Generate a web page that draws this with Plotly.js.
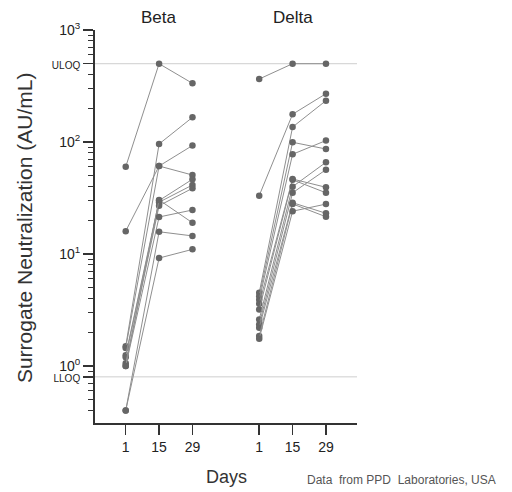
<!DOCTYPE html>
<html>
<head>
<meta charset="utf-8">
<script src="https://cdn.plot.ly/plotly-3.0.1.min.js"></script>
<style>html,body{margin:0;padding:0;background:#fff;}#chart{width:512px;height:492px;}</style>
</head>
<body>
<div id="chart"></div>
<script>
// ---- data ----
const dayLabels = ['1', '15', '29'];
const variants = ['Beta', 'Delta'];
const ULOQ = 500;
const LLOQ = 0.8;

const betaDay1  = [60, 16, 1.5, 1.45, 1.25, 1.2, 1.06, 1.0, 1.0, 0.4, 0.4];
const betaDay15 = [500, 61, 96, 61, 30, 29, 27, 30.4, 21.4, 15.8, 9.2];
const betaDay29 = [334, 93, 166, 50.7, 46.5, 41.3, 38.6, 19, 24.7, 14.5, 11];

const deltaDay1  = [365, 33.2, 4.5, 4.2, 3.9, 3.6, 3.2, 2.6, 2.35, 2.2, 1.85, 1.75];
const deltaDay15 = [500, 177, 136, 99.4, 77.7, 46.7, 46, 39.9, 35.2, 28.7, 28, 24.1];
const deltaDay29 = [500, 270, 234, 86.6, 103, 39.4, 35.2, 65.9, 56.6, 23.1, 21.5, 27.9];

// ---- build ----
const groupPos = {Beta: [0, 1, 2], Delta: [4, 5, 6]};
const series = {Beta: [betaDay1, betaDay15, betaDay29], Delta: [deltaDay1, deltaDay15, deltaDay29]};
const traces = [];
variants.forEach(v => {
  const [d1, d15, d29] = series[v];
  for (let i = 0; i < d1.length; i++) {
    traces.push({
      x: groupPos[v],
      y: [d1[i], d15[i], d29[i]],
      type: 'scatter',
      mode: 'lines+markers',
      line: {color: '#8f8f8f', width: 1},
      marker: {color: '#666666', size: 6.5},
      showlegend: false,
      hoverinfo: 'skip'
    });
  }
});

const minorVals = [];
[0.1, 1, 10, 100].forEach(d => {
  for (let k = 2; k <= 9; k++) {
    const val = +(d * k).toPrecision(3);
    if (val >= 0.31 && val < 1000 && val !== LLOQ && val !== ULOQ) minorVals.push(val);
  }
});

const font = 'Arial, "Liberation Sans", sans-serif';
const small = t => '<span style="font-size:10px">' + t + '</span>';

const layout = {
  width: 512, height: 492,
  margin: {l: 95, r: 155, t: 30, b: 69},
  paper_bgcolor: '#fff', plot_bgcolor: '#fff',
  font: {family: font, color: '#222'},
  xaxis: {
    range: [-0.92, 6.93],
    tickmode: 'array',
    tickvals: [].concat(groupPos.Beta, groupPos.Delta),
    ticktext: [].concat(dayLabels, dayLabels),
    ticks: 'outside', ticklen: 10, tickwidth: 1.5, tickcolor: '#333',
    showline: true, linecolor: '#333', linewidth: 2,
    showgrid: false, zeroline: false,
    tickfont: {size: 14, color: '#222', family: font}
  },
  yaxis: {
    type: 'log',
    range: [-0.509, 3],
    tickmode: 'array',
    tickvals: [LLOQ, 1, 10, 100, ULOQ, 1000],
    ticktext: [small('LLOQ'), '10<sup>0</sup>', '10<sup>1</sup>', '10<sup>2</sup>', small('ULOQ'), '10<sup>3</sup>'],
    ticks: 'outside', ticklen: 10, tickwidth: 1.5, tickcolor: '#333',
    minor: {tickmode: 'array', tickvals: minorVals, ticks: 'outside', ticklen: 5, tickwidth: 1.2, tickcolor: '#333', showgrid: false},
    showline: true, linecolor: '#333', linewidth: 2,
    showgrid: false, zeroline: false,
    tickfont: {size: 14, color: '#222', family: font}
  },
  shapes: [ULOQ, LLOQ].map(val => ({
    type: 'line', xref: 'paper', x0: 0, x1: 1, yref: 'y', y0: val, y1: val,
    line: {color: '#cfcfcf', width: 1}, layer: 'below'
  })),
  annotations: [
    {text: 'Beta', xref: 'x', x: 1, yref: 'paper', y: 1.033, showarrow: false, font: {size: 17, color: '#222'}, yanchor: 'middle'},
    {text: 'Delta', xref: 'x', x: 5, yref: 'paper', y: 1.033, showarrow: false, font: {size: 17, color: '#222'}, yanchor: 'middle'},
    {text: 'Days', xref: 'paper', x: 0.5, yref: 'paper', y: -0.137, showarrow: false, font: {size: 18, color: '#333'}, yanchor: 'middle'},
    {text: 'Surrogate Neutralization (AU/mL)', xref: 'paper', x: -0.271, yref: 'paper', y: 0.496, textangle: -90, showarrow: false, font: {size: 21, color: '#333'}, xanchor: 'center', yanchor: 'middle'},
    {text: 'Data  from PPD  Laboratories, USA', xref: 'paper', x: 1.538, xanchor: 'right', yref: 'paper', y: -0.145, yanchor: 'middle', showarrow: false, font: {size: 12, color: '#555'}}
  ]
};

Plotly.newPlot('chart', traces, layout, {displayModeBar: false, staticPlot: true});
</script>
</body>
</html>
